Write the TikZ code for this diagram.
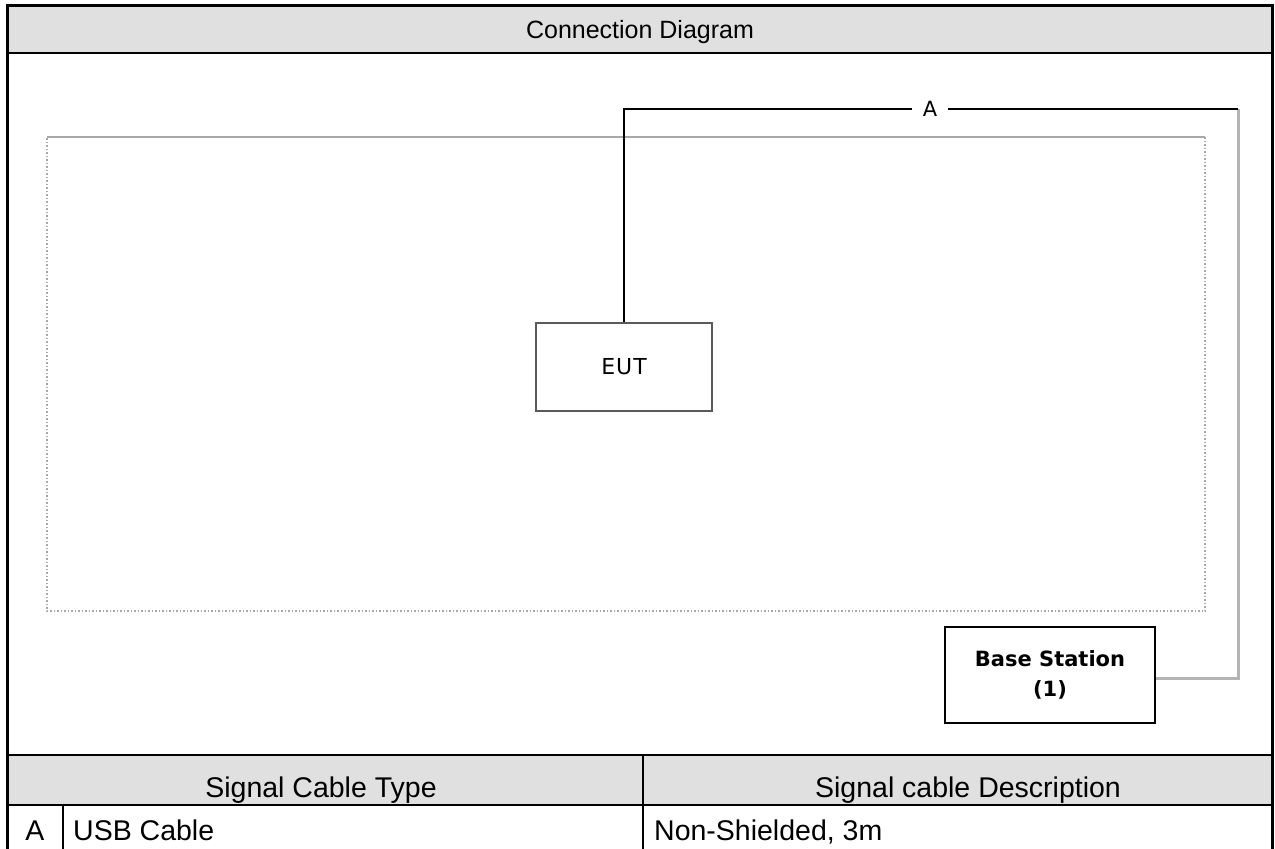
\documentclass[tikz,border=0pt]{standalone}
\usepackage{fontspec}
\setmainfont{Liberation Sans}
\newfontfamily\dejavu{DejaVu Sans}
\definecolor{headgrey}{HTML}{E0E0E0}
\definecolor{cablegrey}{HTML}{B4B4B4}
\definecolor{roomgrey}{HTML}{A8A8A8}
\definecolor{boxgrey}{HTML}{5A5A5A}
\begin{document}
\begin{tikzpicture}[x=1pt,y=-1pt,
  frame/.style={line width=3pt,black},
  rule/.style={line width=2.5pt,black},
  cable/.style={line width=2pt,black},
  cablefar/.style={line width=3pt,cablegrey},
  unitbox/.style={draw,line width=1.5pt,fill=white,inner sep=0pt,align=center},
  tabletext/.style={inner sep=0pt,anchor=base,font=\fontsize{28.5}{34}\selectfont},
  unittext/.style={font=\dejavu\fontsize{21}{31}\selectfont}]
\useasboundingbox (0,0) rectangle (1275,849);
\clip (0,0) rectangle (1275,849);

% shaded header bands
\fill[headgrey] (7,5) rectangle (1272,53);
\fill[headgrey] (7,755) rectangle (1272,805);

% outer frame and table rules
\draw[frame] (7,880) -- (7,5) -- (1272,5) -- (1272,880);
\draw[rule] (7,53) -- (1272,53);
\draw[rule] (7,755) -- (1272,755);
\draw[rule] (7,805) -- (1272,805);
\draw[rule] (643,755) -- (643,880);
\draw[rule] (63,805) -- (63,880);

% test table outline
\draw[line width=1.2pt,roomgrey] (47,137) -- (1205,137);
\draw[line width=1.5pt,roomgrey,dotted] (1205,137) -- (1205,611) -- (47,611) -- (47,137);

% title
\node[tabletext,font=\fontsize{25}{30}\selectfont] (title) at (640,38) {Connection Diagram};

% equipment
\node[unitbox,draw=boxgrey,minimum width=176pt,minimum height=88pt] (eut) at (624,367)
  {\dejavu\fontsize{22}{26}\selectfont E\kern1pt U\kern1pt T};
\node[unitbox,draw=black,minimum width=210pt,minimum height=96pt,unittext] (base) at (1050,675)
  {\bfseries Base Station\\[-1pt]\bfseries (1)};

% cable A
\coordinate (ctl) at (624,109);
\coordinate (ctr) at (1238,109);
\coordinate (cbr) at (1238,678);
\draw[cablefar] (ctr) -- (cbr) -- (cbr -| base.east);
\draw[cable] (eut.north) -- (ctl) -- (ctr);
\node[fill=white,inner xsep=11pt,inner ysep=2pt,font=\dejavu\fontsize{21}{24}\selectfont] (lblA) at (930,109) {A};

% cable table
\node[tabletext] (hdtype) at (321,797) {Signal Cable Type};
\node[tabletext] (hddesc) at (968,797) {Signal cable Description};
\node[tabletext] (rowid) at (35,840) {A};
\node[tabletext,anchor=base west] (rowtype) at (73,840) {USB Cable};
\node[tabletext,anchor=base west] (rowdesc) at (654,840) {Non-Shielded, 3m};
\end{tikzpicture}
\end{document}
